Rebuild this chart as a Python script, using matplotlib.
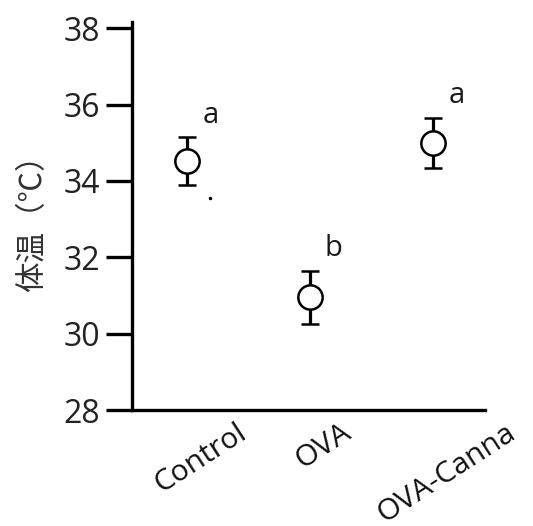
import matplotlib
matplotlib.use("Agg")
import matplotlib.pyplot as plt
import matplotlib.transforms as mtransforms

categories = ["Control", "OVA", "OVA-Canna"]
means = [34.52, 30.95, 35.0]
errors = [0.63, 0.7, 0.66]
letters = ["a", "b", "a"]
yticks = [28, 30, 32, 34, 36, 38]

plt.rcParams['font.family'] = ['Open Sans', 'Noto Sans CJK JP', 'DejaVu Sans']

fig = plt.figure(figsize=(5.33, 5.26), dpi=100)
ax = fig.add_axes([0.2477, 0.2205, 0.91 - 0.2477, 0.958 - 0.2205])

x = list(range(len(categories)))
ax.errorbar(x, means, yerr=errors, fmt='o', color='black', ecolor='black',
            elinewidth=2.3, capsize=6.5, capthick=2.6,
            markersize=17.5, markerfacecolor='white', markeredgecolor='black',
            markeredgewidth=1.8, zorder=3)

for xi, m, e, lab in zip(x, means, errors, letters):
    ax.annotate(lab, (xi, m + e), xytext=(23, 22), textcoords='offset pixels',
                ha='center', va='center', fontsize=21, color='#1a1a1a',
                family=['Open Sans', 'DejaVu Sans'])

# small stray dot near Control
ax.plot([0.18], [33.55], marker='o', markersize=1.5, color='black', linestyle='none')

ax.set_xlim(-0.45, 2.42)
ax.set_ylim(28, 38.16)
ax.set_yticks(yticks)
ax.set_yticklabels([str(t) for t in yticks], fontsize=23, color='#222222')
ax.set_xticks(x)
ax.set_xticklabels([])

lab_tr = ax.get_xaxis_transform() + mtransforms.ScaledTranslation(13 / 100, -8 / 100, fig.dpi_scale_trans)
for xi, cat in zip(x, categories):
    ax.text(xi, 0, cat, transform=lab_tr, rotation=33, ha='center', va='top',
            fontsize=21.5, color='#111111', clip_on=False)

ax.tick_params(axis='y', direction='out', length=19, width=2.4, pad=4)
ax.tick_params(axis='x', length=0)

for side in ['top', 'right']:
    ax.spines[side].set_visible(False)
for side in ['left', 'bottom']:
    ax.spines[side].set_linewidth(2.4)

ax.set_ylabel("体温（℃）", fontsize=22, color='#333333',
              family=['Noto Sans CJK JP', 'DejaVu Sans'], labelpad=11)

fig.savefig("out.png", dpi=100)
